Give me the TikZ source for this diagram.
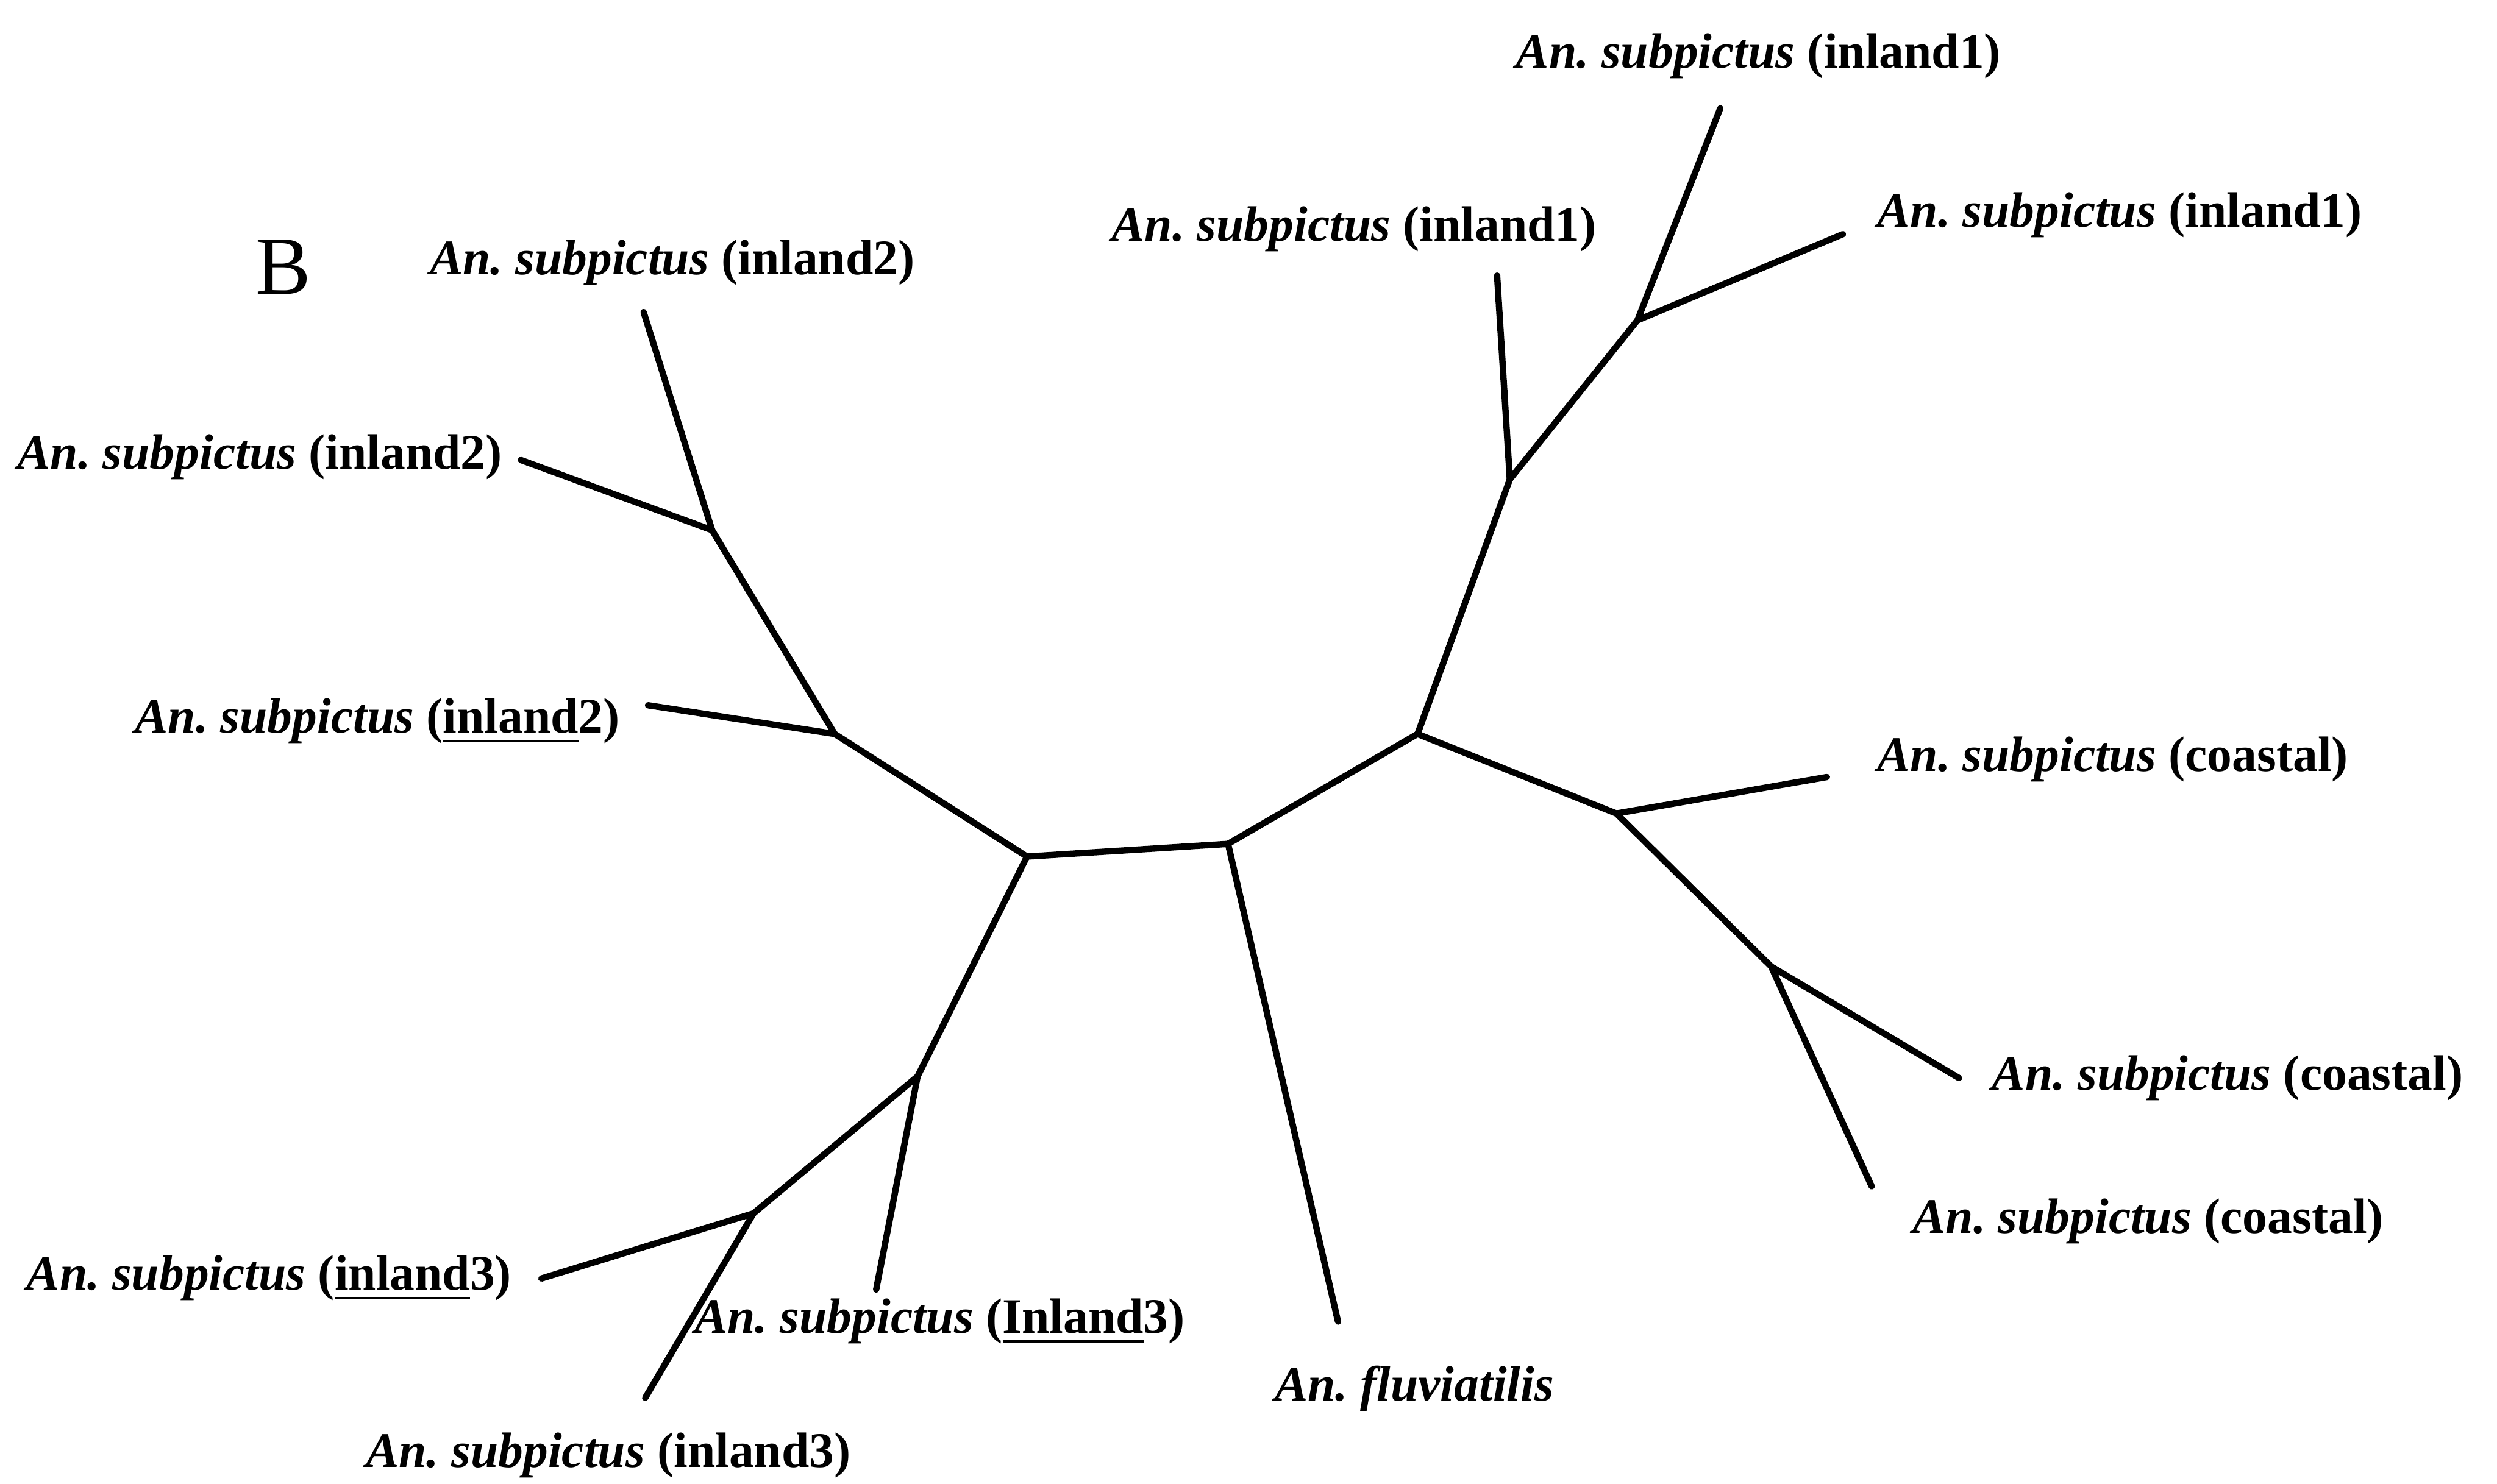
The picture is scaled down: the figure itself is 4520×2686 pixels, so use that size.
\documentclass[tikz,border=0pt]{standalone}
\usepackage{fontspec}
\setmainfont{Liberation Serif}
\newcommand{\anlab}[1]{{\itshape An.\ subpictus} (#1)}
\tikzset{
  branch/.style={line width=1.15pt, line cap=round, line join=round},
  lbl/.style={inner sep=0pt, font=\fontsize{9}{10}\selectfont\bfseries},
}
\begin{document}
\begin{tikzpicture}[x=0.1pt, y=-0.1pt]
\useasboundingbox (0,0) rectangle (4520,2686);
% internal nodes
\coordinate (A) at (1859,1551);
\coordinate (C) at (2223,1528);
\coordinate (D) at (2566,1329);
\coordinate (E) at (1511,1329);
\coordinate (F) at (1289,960);
\coordinate (G) at (1661,1949);
\coordinate (H) at (1364,2197);
\coordinate (I) at (2733,868);
\coordinate (J) at (2964,580);
\coordinate (K) at (2926,1473);
\coordinate (L) at (3206,1750);
% leaf ends
\coordinate (e1) at (1173,1277);
\coordinate (f1) at (943,833);
\coordinate (f2) at (1165,565);
\coordinate (g1) at (1586,2335);
\coordinate (h1) at (980,2315);
\coordinate (h2) at (1168,2531);
\coordinate (c1) at (2422,2393);
\coordinate (i1) at (2710,499);
\coordinate (j1) at (3114,196);
\coordinate (j2) at (3336,424);
\coordinate (k1) at (3307,1407);
\coordinate (l1) at (3546,1952);
\coordinate (l2) at (3388,2148);
% branches
\draw[branch] (A) -- (C);
\draw[branch] (C) -- (D);
\draw[branch] (A) -- (E);
\draw[branch] (E) -- (e1);
\draw[branch] (E) -- (F);
\draw[branch] (F) -- (f1);
\draw[branch] (F) -- (f2);
\draw[branch] (A) -- (G);
\draw[branch] (G) -- (g1);
\draw[branch] (G) -- (H);
\draw[branch] (H) -- (h1);
\draw[branch] (H) -- (h2);
\draw[branch] (C) -- (c1);
\draw[branch] (D) -- (I);
\draw[branch] (I) -- (i1);
\draw[branch] (I) -- (J);
\draw[branch] (J) -- (j1);
\draw[branch] (J) -- (j2);
\draw[branch] (D) -- (K);
\draw[branch] (K) -- (k1);
\draw[branch] (K) -- (L);
\draw[branch] (L) -- (l1);
\draw[branch] (L) -- (l2);
% labels
\node[font=\fontsize{15}{17}\selectfont, inner sep=0pt] (B) at (513,484) {B};
\node[lbl] (t1) at (1217,476) {\anlab{inland2}};
\node[lbl, anchor=east] (t2) at (911,827) {\anlab{inland2}};
\node[lbl, anchor=east] (t3) at (1124,1306) {\anlab{\underline{inland}2}};
\node[lbl, anchor=east] (t4) at (928,2315) {\anlab{\underline{inland}3}};
\node[lbl] (t5) at (1701,2393) {\anlab{\underline{Inland}3}};
\node[lbl] (t6) at (1101,2635) {\anlab{inland3}};
\node[lbl] (t7) at (2560,2514) {\itshape An.\ fluviatilis};
\node[lbl] (t8) at (3183,101) {\anlab{inland1}};
\node[lbl] (t9) at (2451,415) {\anlab{inland1}};
\node[lbl, anchor=west] (t10) at (3396,389) {\anlab{inland1}};
\node[lbl, anchor=west] (t11) at (3396,1375) {\anlab{coastal}};
\node[lbl, anchor=west] (t12) at (3604,1952) {\anlab{coastal}};
\node[lbl, anchor=west] (t13) at (3460,2211) {\anlab{coastal}};
\end{tikzpicture}
\end{document}
